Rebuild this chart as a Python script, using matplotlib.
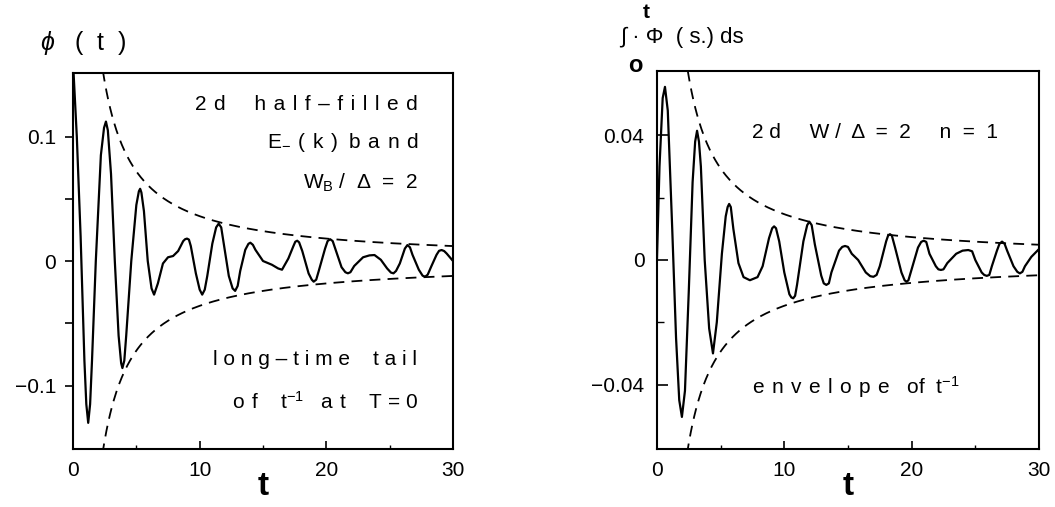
import matplotlib
matplotlib.use("Agg")
import matplotlib.pyplot as plt
import numpy as np

plt.rcParams['font.family'] = ['Liberation Sans', 'DejaVu Sans']
plt.rcParams['mathtext.fontset'] = 'custom'
plt.rcParams['mathtext.rm'] = 'Liberation Sans'
plt.rcParams['mathtext.it'] = 'Liberation Sans:italic'
plt.rcParams['mathtext.bf'] = 'Liberation Sans:bold'

# ---- data: left panel phi(t) ----
t_left = [0.0, 0.3, 0.6, 0.9, 1.05, 1.2, 1.35, 1.5, 1.8, 2.2, 2.45, 2.6, 2.75,
          3.0, 3.3, 3.6, 3.8, 3.9, 4.05, 4.2, 4.6, 5.0, 5.2, 5.3, 5.4, 5.6,
          5.9, 6.2, 6.4, 6.7, 7.1, 7.5, 7.9, 8.3, 8.7, 8.85, 9.0, 9.15, 9.3,
          9.7, 10.0, 10.2, 10.4, 10.6, 11.0, 11.3, 11.5, 11.7, 11.9, 12.3,
          12.6, 12.8, 13.0, 13.2, 13.6, 13.85, 14.0, 14.2, 14.4, 15.0, 15.7,
          16.2, 16.5, 17.0, 17.4, 17.55, 17.7, 17.85, 18.1, 18.6, 18.85, 19.0,
          19.2, 19.4, 19.9, 20.1, 20.3, 20.5, 20.7, 21.2, 21.5, 21.7, 21.9,
          22.2, 22.9, 23.4, 23.8, 24.3, 24.8, 25.1, 25.3, 25.5, 25.8, 26.2,
          26.4, 26.6, 26.8, 27.3, 27.6, 27.8, 28.0, 28.3, 28.7, 28.9, 29.1,
          29.3, 29.5, 30.0]
phi_left = [0.16, 0.10, 0.02, -0.08, -0.115, -0.130, -0.115, -0.08, 0.0, 0.085,
            0.107, 0.112, 0.105, 0.07, 0.0, -0.06, -0.082, -0.086, -0.080,
            -0.06, 0.0, 0.045, 0.056, 0.058, 0.055, 0.04, 0.0, -0.022, -0.027,
            -0.018, -0.002, 0.003, 0.004, 0.008, 0.016, 0.0175, 0.018, 0.0172,
            0.012, -0.010, -0.023, -0.027, -0.023, -0.012, 0.014, 0.027, 0.030,
            0.027, 0.014, -0.012, -0.022, -0.024, -0.020, -0.008, 0.009, 0.0138,
            0.0147, 0.013, 0.009, 0.0, -0.003, -0.006, -0.007, 0.002, 0.012,
            0.0155, 0.0163, 0.015, 0.008, -0.010, -0.015, -0.0166, -0.015,
            -0.008, 0.010, 0.016, 0.0175, 0.016, 0.010, -0.005, -0.0090,
            -0.0099, -0.009, -0.004, 0.003, 0.0045, 0.0048, 0.001, -0.006,
            -0.0093, -0.0099, -0.008, -0.002, 0.010, 0.0128, 0.011, 0.005,
            -0.007, -0.0118, -0.0126, -0.011, -0.004, 0.005, 0.0082, 0.0088,
            0.008, 0.006, 0.0]

# ---- data: right panel integral of phi ----
t_right = [0.0, 0.2, 0.45, 0.63, 0.85, 1.2, 1.5, 1.75, 1.96, 2.2, 2.5, 2.8,
           3.0, 3.15, 3.3, 3.45, 3.75, 4.1, 4.4, 4.7, 5.1, 5.4, 5.55, 5.67,
           5.8, 6.0, 6.4, 6.8, 7.3, 7.9, 8.3, 8.8, 9.05, 9.2, 9.35, 9.6, 10.0,
           10.4, 10.55, 10.7, 10.85, 11.0, 11.5, 11.8, 11.97, 12.15, 12.4,
           12.9, 13.1, 13.3, 13.5, 13.7, 14.3, 14.55, 14.77, 15.0, 15.3, 15.8,
           16.4, 16.75, 17.0, 17.25, 17.5, 18.0, 18.15, 18.3, 18.45, 18.7,
           19.2, 19.45, 19.6, 19.75, 20.0, 20.5, 20.75, 20.95, 21.15, 21.4,
           21.9, 22.1, 22.3, 22.5, 22.8, 23.5, 24.0, 24.45, 24.75, 25.0, 25.5,
           25.7, 25.9, 26.1, 26.3, 26.7, 26.9, 27.1, 27.3, 27.5, 28.0, 28.3,
           28.5, 28.7, 28.9, 29.4, 30.0]
int_right = [0.0, 0.03, 0.052, 0.0556, 0.048, 0.01, -0.025, -0.045, -0.0504,
             -0.042, -0.01, 0.025, 0.038, 0.0415, 0.038, 0.03, 0.0, -0.022,
             -0.030, -0.02, 0.002, 0.014, 0.017, 0.018, 0.017, 0.010, -0.001,
             -0.0055, -0.0065, -0.0055, -0.002, 0.007, 0.0102, 0.0108, 0.0102,
             0.006, -0.004, -0.011, -0.0120, -0.0123, -0.0115, -0.008, 0.006,
             0.0112, 0.0123, 0.0112, 0.005, -0.005, -0.0075, -0.008, -0.0075,
             -0.004, 0.003, 0.0042, 0.0045, 0.0042, 0.002, 0.0, -0.004, -0.0052,
             -0.0054, -0.0048, -0.002, 0.006, 0.0078, 0.0083, 0.0078, 0.004,
             -0.004, -0.0065, -0.0070, -0.0065, -0.003, 0.004, 0.0058, 0.0062,
             0.0058, 0.002, -0.002, -0.003, -0.0032, -0.003, -0.001, 0.002,
             0.003, 0.0032, 0.0028, 0.0, -0.004, -0.0048, -0.0051, -0.0048,
             -0.002, 0.003, 0.0052, 0.0059, 0.0052, 0.003, -0.002, -0.0038,
             -0.0043, -0.0038, -0.002, 0.001, 0.0035]

# envelope coefficients (C / t)
env_left = 0.36
env_right = 0.147

xticks = [0, 10, 20, 30]
left_yticks = [-0.1, 0, 0.1]
left_yticklabels = ['\u22120.1', '0', '0.1']
right_yticks = [-0.04, 0, 0.04]
right_yticklabels = ['\u22120.04', '0', '0.04']

G = ' \u200a'  # wide letter spacing as in the original typesetting


def sp(s, gap=G):
    return gap.join(s)


fig = plt.figure(figsize=(10.55, 5.07), dpi=100)
axL = fig.add_axes([0.0692, 0.1144, 0.3602, 0.7416])
axR = fig.add_axes([0.6227, 0.1144, 0.3621, 0.7456])

dash = (6, 4)
for ax, t, y, C, ylim in [(axL, t_left, phi_left, env_left, 0.151),
                          (axR, t_right, int_right, env_right, 0.0607)]:
    ax.plot(t, y, color='black', lw=1.6, solid_joinstyle='round')
    te = np.linspace(1.5, 30, 400)
    ax.plot(te, C / te, color='black', lw=1.3, dashes=dash)
    ax.plot(te, -C / te, color='black', lw=1.3, dashes=dash)
    ax.set_xlim(0, 30)
    ax.set_ylim(-ylim, ylim)
    ax.set_xticks(xticks)
    ax.set_xticks([5, 15, 25], minor=True)
    for s in ax.spines.values():
        s.set_linewidth(1.5)
    ax.tick_params(axis='x', which='major', direction='in', length=6, width=1.2,
                   labelsize=15, pad=9)
    ax.tick_params(axis='x', which='minor', direction='in', length=3, width=1.0)

axL.set_yticks(left_yticks)
axL.set_yticklabels(left_yticklabels)
axL.set_yticks([-0.05, 0.05], minor=True)
axL.tick_params(axis='y', which='both', direction='out', length=6, width=1.2,
                labelsize=15, pad=6)

axR.set_yticks(right_yticks)
axR.set_yticklabels(right_yticklabels)
axR.set_yticks([-0.02, 0.02], minor=True)
axR.tick_params(axis='y', which='major', direction='in', length=8, width=1.2,
                labelsize=15, pad=9)
axR.tick_params(axis='y', which='minor', direction='in', length=5, width=1.0)

# x labels
for ax in (axL, axR):
    ax.set_xlabel('t', fontsize=24, fontweight='bold', labelpad=-7)

# left y label
fig.text(40 / 1055, 1 - 43 / 507, '$\\phi$   (  t  )', fontsize=18,
         ha='left', va='center')

# right y label (integral from 0 to t)
fig.text(646 / 1055, 1 - 12 / 507, 't', fontsize=15, fontweight='bold',
         ha='center', va='center')
fig.text(620 / 1055, 1 - 37 / 507, '\u222b \u00b7 \u03a6  ( s.) ds',
         fontsize=16, ha='left', va='center')
fig.text(635 / 1055, 1 - 66 / 507, 'o', fontsize=17, fontweight='bold',
         ha='center', va='center')

# annotations left
kw = dict(transform=axL.transAxes, fontsize=15, ha='right', va='center')
axL.text(0.908, 0.915, '2' + G + 'd' + '     ' + sp('half\u2013filled'), **kw)
axL.text(0.908, 0.814, 'E$_{-}$' + G + '(' + G + 'k' + G + ')  ' + sp('band'), **kw)
axL.text(0.908, 0.707, 'W$_\\mathrm{B}$ /  \u0394  =  2', **kw)
axL.text(0.905, 0.237, sp('long\u2013time', ' ') + '    ' + sp('tail', ' '), **kw)
axL.text(0.908, 0.125, sp('of') + '    t$^{-1}$   ' + sp('at') + '    T = 0', **kw)

# annotations right
kw2 = dict(transform=axR.transAxes, fontsize=15, ha='left', va='center')
axR.text(0.249, 0.836, '2 d     W /  \u0394  =  2     n  =  1', **kw2)
axR.text(0.249, 0.164, sp('envelope') + '   of  t$^{-1}$', **kw2)

fig.savefig('out.png', dpi=100)
